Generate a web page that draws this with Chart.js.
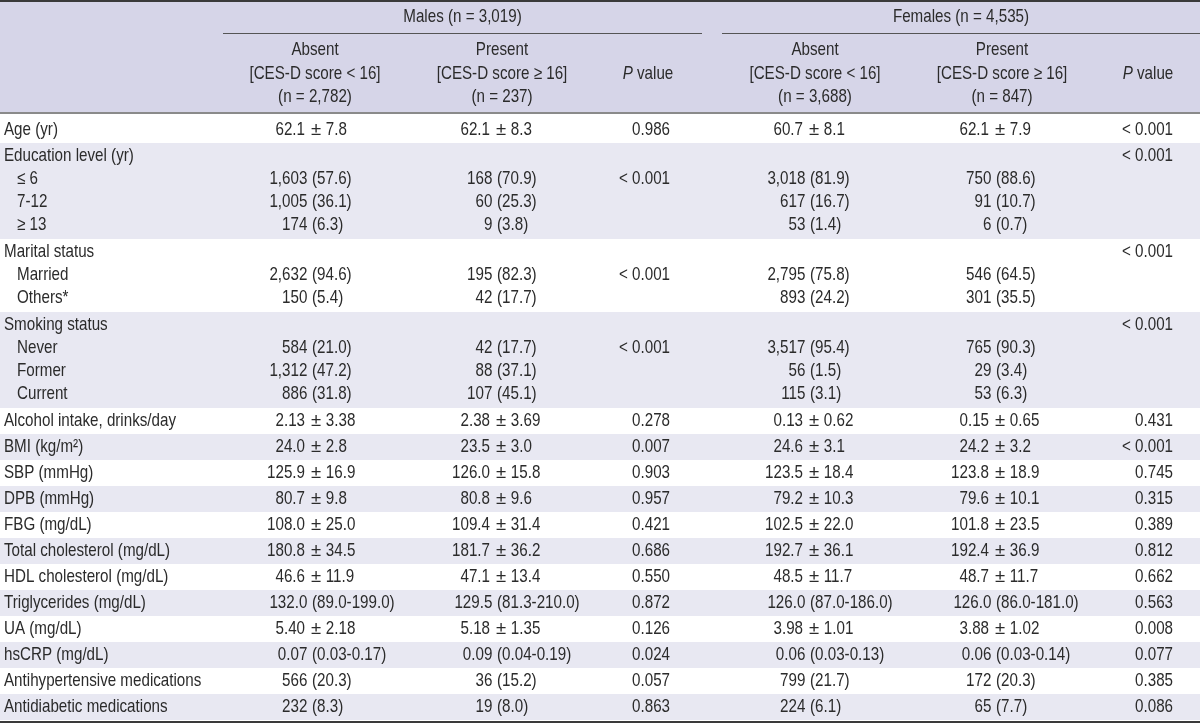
<!DOCTYPE html>
<html>
<head>
<meta charset="utf-8">
<title>CES-D table</title>
<script src="https://cdn.jsdelivr.net/npm/chart.js@4.4.1/dist/chart.umd.min.js"></script>
<style>
  html, body { margin: 0; padding: 0; background: #fff; overflow: hidden; }
  canvas { display: block; }
</style>
</head>
<body>
<canvas id="myTable" width="1200" height="726"></canvas>
<script>
// ---- table content ----
const groupTitles = ['Males (n = 3,019)', 'Females (n = 4,535)'];
const colHeads = [
    ['Absent', '[CES-D score < 16]', '(n = 2,782)'],
    ['Present', '[CES-D score \u2265 16]', '(n = 237)'],
    ['P value'],
    ['Absent', '[CES-D score < 16]', '(n = 3,688)'],
    ['Present', '[CES-D score \u2265 16]', '(n = 847)'],
    ['P value']
];

const rowLabels = [
    'Age (yr)',
    'Education level (yr)', '\u2264 6', '7-12', '\u2265 13',
    'Marital status', 'Married', 'Others*',
    'Smoking status', 'Never', 'Former', 'Current',
    'Alcohol intake, drinks/day',
    'BMI (kg/m\u00b2)',
    'SBP (mmHg)',
    'DPB (mmHg)',
    'FBG (mg/dL)',
    'Total cholesterol (mg/dL)',
    'HDL cholesterol (mg/dL)',
    'Triglycerides (mg/dL)',
    'UA (mg/dL)',
    'hsCRP (mg/dL)',
    'Antihypertensive medications',
    'Antidiabetic medications'
];
// lines per shaded/unshaded band
const bandLines = [1, 4, 3, 4, 1, 1, 1, 1, 1, 1, 1, 1, 1, 1, 1, 1];

const maleAbsent = ['62.1 \u00b1 7.8', '', '1,603 (57.6)', '1,005 (36.1)', '174 (6.3)', '', '2,632 (94.6)', '150 (5.4)',
    '', '584 (21.0)', '1,312 (47.2)', '886 (31.8)', '2.13 \u00b1 3.38', '24.0 \u00b1 2.8', '125.9 \u00b1 16.9', '80.7 \u00b1 9.8',
    '108.0 \u00b1 25.0', '180.8 \u00b1 34.5', '46.6 \u00b1 11.9', '132.0 (89.0-199.0)', '5.40 \u00b1 2.18', '0.07 (0.03-0.17)',
    '566 (20.3)', '232 (8.3)'];
const malePresent = ['62.1 \u00b1 8.3', '', '168 (70.9)', '60 (25.3)', '9 (3.8)', '', '195 (82.3)', '42 (17.7)',
    '', '42 (17.7)', '88 (37.1)', '107 (45.1)', '2.38 \u00b1 3.69', '23.5 \u00b1 3.0', '126.0 \u00b1 15.8', '80.8 \u00b1 9.6',
    '109.4 \u00b1 31.4', '181.7 \u00b1 36.2', '47.1 \u00b1 13.4', '129.5 (81.3-210.0)', '5.18 \u00b1 1.35', '0.09 (0.04-0.19)',
    '36 (15.2)', '19 (8.0)'];
const maleP = ['0.986', '', '< 0.001', '', '', '', '< 0.001', '',
    '', '< 0.001', '', '', '0.278', '0.007', '0.903', '0.957',
    '0.421', '0.686', '0.550', '0.872', '0.126', '0.024', '0.057', '0.863'];
const femaleAbsent = ['60.7 \u00b1 8.1', '', '3,018 (81.9)', '617 (16.7)', '53 (1.4)', '', '2,795 (75.8)', '893 (24.2)',
    '', '3,517 (95.4)', '56 (1.5)', '115 (3.1)', '0.13 \u00b1 0.62', '24.6 \u00b1 3.1', '123.5 \u00b1 18.4', '79.2 \u00b1 10.3',
    '102.5 \u00b1 22.0', '192.7 \u00b1 36.1', '48.5 \u00b1 11.7', '126.0 (87.0-186.0)', '3.98 \u00b1 1.01', '0.06 (0.03-0.13)',
    '799 (21.7)', '224 (6.1)'];
const femalePresent = ['62.1 \u00b1 7.9', '', '750 (88.6)', '91 (10.7)', '6 (0.7)', '', '546 (64.5)', '301 (35.5)',
    '', '765 (90.3)', '29 (3.4)', '53 (6.3)', '0.15 \u00b1 0.65', '24.2 \u00b1 3.2', '123.8 \u00b1 18.9', '79.6 \u00b1 10.1',
    '101.8 \u00b1 23.5', '192.4 \u00b1 36.9', '48.7 \u00b1 11.7', '126.0 (86.0-181.0)', '3.88 \u00b1 1.02', '0.06 (0.03-0.14)',
    '172 (20.3)', '65 (7.7)'];
const femaleP = ['< 0.001', '< 0.001', '', '', '', '< 0.001', '', '',
    '< 0.001', '', '', '', '0.431', '< 0.001', '0.745', '0.315',
    '0.389', '0.812', '0.662', '0.563', '0.008', '0.077', '0.385', '0.086'];

// ---- layout (table units) ----
const W = 1200, H = 726;
const headerH = 113;
const lineH = 23, singleH = 26;
const headCenters = [315, 502, 648, 815, 1002, 1148];   // header text centres
const alignAt = [312, 497, 670, 810, 996, 1173];        // separator x / right edge for p values
const groupSpan = [[223, 702], [722, 1200]];
const labelX = 4, subLabelX = 17;
const SQ = 0.82;   // condensed look
const FONT_PX = 18.5;
const textColor = '#2b2b2b';
const headBg = '#d6d5e8';
const stripeBg = '#e8e8f2';

// band tops / line centres built from the line counts
const bandTops = [];
const lineY = [];
const lineSub = [];
let yCur = headerH;
bandLines.forEach((n, b) => {
    bandTops.push(yCur);
    const h = b === 0 ? 30 : (n === 1 ? singleH : n * lineH + 4);
    const first = b === 0 ? yCur + 17 : yCur + 13;
    for (let i = 0; i < n; i++) {
        lineY.push(first + i * lineH);
        lineSub.push(i > 0);
    }
    yCur += h;
});
bandTops.push(yCur);

const columns = [maleAbsent, malePresent, maleP, femaleAbsent, femalePresent, femaleP];

function font(italic) {
    return (italic ? 'italic ' : '') + FONT_PX + 'px "Liberation Sans", Arial, sans-serif';
}
function tw(ctx, s, italic, sq) {
    ctx.font = font(italic);
    return ctx.measureText(s).width * (sq || SQ);
}
function put(ctx, s, x, y, align, italic, sq) {
    ctx.save();
    ctx.font = font(italic);
    ctx.fillStyle = textColor;
    ctx.textBaseline = 'middle';
    ctx.textAlign = align;
    ctx.translate(x, y);
    ctx.scale(sq || SQ, 1);
    ctx.fillText(s, 0, 0);
    ctx.restore();
}

const tablePlugin = {
    id: 'tablePlugin',
    beforeDraw(chart) {
        const ctx = chart.ctx;
        const xs = chart.scales.x, ys = chart.scales.y;
        const px = v => xs.getPixelForValue(v);
        const py = v => ys.getPixelForValue(v);
        ctx.save();
        ctx.fillStyle = '#fff';
        ctx.fillRect(0, 0, chart.width, chart.height);
        // header band
        ctx.fillStyle = headBg;
        ctx.fillRect(px(0), py(0), px(W) - px(0), py(headerH) - py(0));
        // striped bands
        bandLines.forEach((n, b) => {
            if (b % 2 === 1) {
                ctx.fillStyle = stripeBg;
                ctx.fillRect(px(0), py(bandTops[b]), px(W) - px(0), py(bandTops[b + 1]) - py(bandTops[b]));
            }
        });
        // rules
        ctx.fillStyle = '#3a3a3a';
        ctx.fillRect(px(0), py(0), px(W) - px(0), 2);
        ctx.fillStyle = '#8a8a8a';
        ctx.fillRect(px(0), py(headerH) - 1, px(W) - px(0), 2);
        ctx.fillStyle = '#3a3a3a';
        ctx.fillRect(px(0), py(bandTops[bandTops.length - 1]) + 1, px(W) - px(0), 2);
        ctx.fillStyle = '#555';
        groupSpan.forEach(g => ctx.fillRect(px(g[0]), py(33), px(g[1]) - px(g[0]), 1));
        ctx.restore();
    },
    afterDraw(chart) {
        const ctx = chart.ctx;
        const xs = chart.scales.x, ys = chart.scales.y;
        const px = v => xs.getPixelForValue(v);
        const py = v => ys.getPixelForValue(v);

        // group titles
        groupTitles.forEach((t, i) => put(ctx, t, px((groupSpan[i][0] + groupSpan[i][1]) / 2), py(17), 'center'));

        // column heads
        colHeads.forEach((lines, c) => {
            if (lines.length === 1) {
                const wP = tw(ctx, 'P', true), wRest = tw(ctx, ' value', false);
                const x0 = px(headCenters[c]) - (wP + wRest) / 2;
                put(ctx, 'P', x0, py(74), 'left', true);
                put(ctx, ' value', x0 + wP, py(74), 'left', false);
            } else {
                lines.forEach((t, i) => put(ctx, t, px(headCenters[c]), py(50 + i * 23.5), 'center'));
            }
        });

        // row labels
        rowLabels.forEach((t, r) => put(ctx, t, px(lineSub[r] ? subLabelX : labelX), py(lineY[r]), 'left'));

        // cells: aligned on the "±" or "(" separator
        const sp = tw(ctx, ' ', false);
        const pmW = tw(ctx, '\u00b1', false, 1);
        columns.forEach((col, c) => {
            col.forEach((s, r) => {
                if (!s) return;
                const y = py(lineY[r]);
                const ax = px(alignAt[c]);
                if (c === 2 || c === 5) {
                    put(ctx, s, ax, y, 'right');
                    return;
                }
                let k = s.indexOf(' \u00b1 ');
                if (k >= 0) {
                    put(ctx, s.slice(0, k), ax - 7, y, 'right');
                    put(ctx, '\u00b1', ax - 1, y, 'left', false, 1);
                    put(ctx, s.slice(k + 3), ax - 1 + pmW + sp * 1.1, y, 'left');
                    return;
                }
                k = s.indexOf(' (');
                put(ctx, s.slice(0, k), ax - sp * 1.1, y, 'right');
                put(ctx, s.slice(k + 1), ax, y, 'left');
            });
        });
    }
};

const myTable = new Chart(document.getElementById('myTable').getContext('2d'), {
    type: 'scatter',
    data: { datasets: [] },
    options: {
        responsive: false,
        animation: false,
        devicePixelRatio: 1,
        layout: { padding: 0 },
        events: [],
        plugins: { legend: { display: false }, tooltip: { enabled: false } },
        scales: {
            x: { type: 'linear', min: 0, max: W, display: false },
            y: { type: 'linear', min: 0, max: H, reverse: true, display: false }
        }
    },
    plugins: [tablePlugin]
});
</script>
</body>
</html>
